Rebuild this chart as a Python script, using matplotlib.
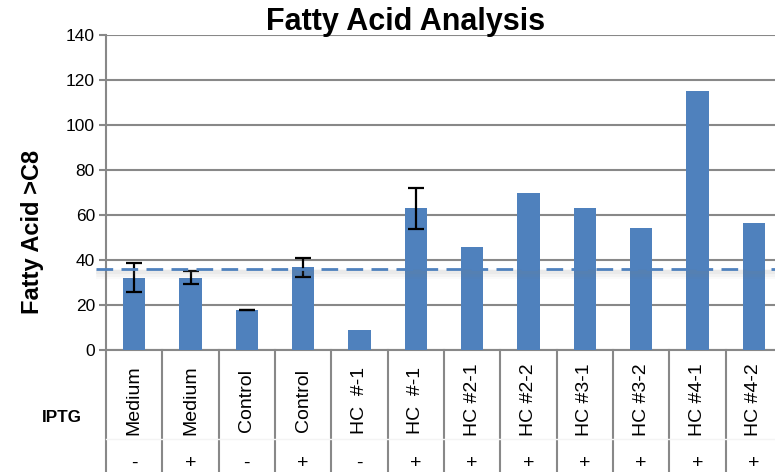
import numpy as np
import matplotlib
matplotlib.use('Agg')
from matplotlib import pyplot as plt

plt.rcParams['font.family'] = ['Liberation Sans', 'DejaVu Sans']

# data
categories = ['Medium', 'Medium', 'Control', 'Control', 'HC  #-1', 'HC  #-1',
              'HC #2-1', 'HC #2-2', 'HC #3-1', 'HC #3-2', 'HC #4-1', 'HC #4-2']
iptg = ['-', '+', '-', '+', '-', '+', '+', '+', '+', '+', '+', '+']
values = [32.2, 32.2, 17.8, 36.7, 8.9, 63.0, 45.6, 69.6, 63.0, 54.1, 115.3, 56.3]
errors = [6.5, 2.8, 0.2, 4.3, np.nan, 9.0, np.nan, np.nan, np.nan, np.nan, np.nan, np.nan]
baseline = 35.9

bar_color = '#4F81BD'
grid_color = '#888888'

fig = plt.figure(figsize=(7.75, 4.72), dpi=100)
W, H = 775, 472
ax = fig.add_axes([106 / W, (H - 350) / H, 676 / W, 315 / H])

x = np.arange(len(categories))
ax.bar(x, values, width=0.4, color=bar_color, zorder=3)
err_x = [i for i in x if not np.isnan(errors[i])]
ax.errorbar(err_x, [values[i] for i in err_x], yerr=[errors[i] for i in err_x],
            fmt='none', ecolor='black', elinewidth=1.6, capsize=6, capthick=1.6, zorder=4)

ax.set_xlim(-0.5, len(categories) - 0.5)
ax.set_ylim(0, 140)
ax.set_yticks(range(0, 141, 20))
ax.tick_params(axis='y', labelsize=12.5, length=5, width=1.5, color=grid_color, pad=3)
ax.set_xticks([])
ax.grid(axis='y', color=grid_color, linewidth=1.5, zorder=0)
for s in ['top', 'right']:
    ax.spines[s].set_visible(False)
ax.spines['left'].set_color(grid_color)
ax.spines['left'].set_linewidth(1.5)
ax.spines['bottom'].set_color(grid_color)
ax.spines['bottom'].set_linewidth(1.5)

# dashed reference line with a soft shadow
trans = ax.get_yaxis_transform()
for k, a in enumerate([0.08, 0.05, 0.04]):
    ax.plot([-0.015, 1], [baseline - 1.4 - k * 0.4] * 2, transform=trans, color='gray',
            linewidth=3 + 2 * k, alpha=a, clip_on=False, zorder=4,
            solid_capstyle='butt')
ax.plot([-0.015, 1], [baseline, baseline], transform=trans, color='#4F81BD',
        linewidth=2, linestyle=(0, (6, 3)), clip_on=False, zorder=5)

# table below the axis
xt = ax.get_xaxis_transform()
for b in np.arange(-0.5, len(categories) + 0.5, 1):
    ax.plot([b, b], [0, -0.4], transform=xt, color=grid_color, linewidth=1.5,
            clip_on=False, zorder=1)
ax.plot([-0.5, len(categories) - 0.5], [-0.283, -0.283], transform=xt, color='#f4f4f4',
        linewidth=1, clip_on=False, zorder=2)
for i, (c, p) in enumerate(zip(categories, iptg)):
    ax.text(i, -0.159, c, transform=xt, rotation=90, ha='center', va='center', fontsize=14)
    ax.text(i, -0.359, p, transform=xt, ha='center', va='center', fontsize=14)

fig.text(62 / W, (H - 417) / H, 'IPTG', ha='center', va='center', fontsize=12.3,
         fontweight='bold')
fig.text(406 / W, (H - 22) / H, 'Fatty Acid Analysis', ha='center', va='center',
         fontsize=22, fontweight='bold')
fig.text(33 / W, (H - 232) / H, 'Fatty Acid >C8', ha='center', va='center',
         rotation=90, fontsize=17, fontweight='bold')

fig.savefig('out.png', dpi=100)
plt.close(fig)
